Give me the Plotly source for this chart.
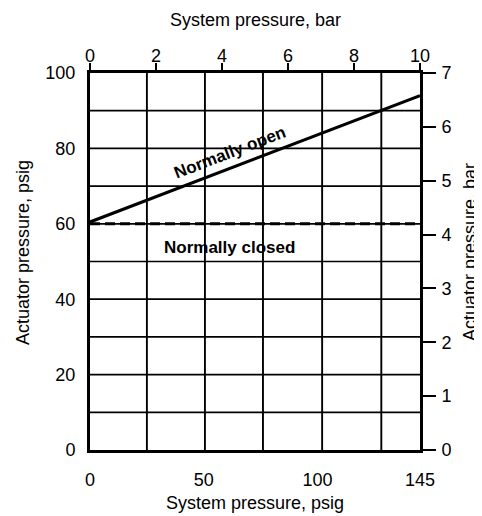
import plotly.graph_objects as go

# ---- data ----
system_psig = [0, 145]
normally_open_psig = [60.5, 94]
normally_closed_psig = [60, 60]

bottom_tickvals = [0, 50, 100, 145]
bottom_ticktext = ["0", "50", "100", "145"]
top_tickvals = [0, 2, 4, 6, 8, 10]
left_tickvals = [0, 20, 40, 60, 80, 100]
right_tickvals = [0, 1, 2, 3, 4, 5, 6, 7]

grid_x_psig = [25, 50.5, 76, 102, 128]
grid_y_psig = [10, 20, 30, 40, 50, 60, 70, 80, 90]

FONT = "Liberation Sans, Arial, Helvetica, sans-serif"

# page body has an 8px margin; figure is sized so that it fits the 482x516 window
W, H = 474, 508
L, R, T, B = 82, 62, 65, 66
PW, PH = W - L - R, H - T - B  # 330 x 377


def px_x(screen_x):
    return (screen_x - 8 - L) / PW


def px_y(screen_y):
    return (H - B - (screen_y - 8)) / PH


fig = go.Figure()

fig.add_trace(go.Scatter(
    x=system_psig, y=normally_open_psig, mode="lines",
    line=dict(color="black", width=3.2), showlegend=False, hoverinfo="skip"))
fig.add_trace(go.Scatter(
    x=system_psig, y=normally_closed_psig, mode="lines",
    line=dict(color="black", width=3, dash="10px,5px"), showlegend=False, hoverinfo="skip"))
# carrier trace for the secondary (bar) axes
fig.add_trace(go.Scatter(x=[None], y=[None], xaxis="x2", yaxis="y2",
                         showlegend=False, hoverinfo="skip"))

shapes = []
for gx in grid_x_psig:
    shapes.append(dict(type="line", xref="x", yref="paper", x0=gx, x1=gx, y0=0, y1=1,
                       line=dict(color="black", width=1.9), layer="below"))
for gy in grid_y_psig:
    shapes.append(dict(type="line", xref="paper", yref="y", x0=0, x1=1, y0=gy, y1=gy,
                       line=dict(color="black", width=1.7), layer="below"))

title_font = dict(family=FONT, size=18, color="black")
annotations = [
    dict(text="Normally open", x=61.5, y=78.8, xref="x", yref="y", showarrow=False,
         textangle=-21, xanchor="center", yanchor="middle",
         font=dict(family=FONT, size=17, color="black", weight="bold")),
    dict(text="Normally closed", x=61.5, y=53.6, xref="x", yref="y", showarrow=False,
         xanchor="center", yanchor="middle",
         font=dict(family=FONT, size=17, color="black", weight="bold")),
    dict(text="System pressure, bar", x=px_x(255), y=px_y(20), xref="paper", yref="paper",
         xanchor="center", yanchor="middle", showarrow=False, font=title_font),
    dict(text="System pressure, psig", x=px_x(255), y=px_y(503), xref="paper", yref="paper",
         xanchor="center", yanchor="middle", showarrow=False, font=title_font),
    dict(text="Actuator pressure, psig", x=px_x(23), y=px_y(253),
         xref="paper", yref="paper", textangle=-90, xanchor="center", yanchor="middle",
         showarrow=False, font=title_font),
    dict(text="Actuator pressure, bar", x=px_x(470), y=px_y(252),
         xref="paper", yref="paper", textangle=-90, xanchor="center", yanchor="middle",
         showarrow=False, font=title_font),
]

tickfont = dict(family=FONT, size=18, color="black")

fig.update_layout(
    width=W, height=H,
    margin=dict(l=L, r=R, t=T, b=B, autoexpand=False),
    paper_bgcolor="white", plot_bgcolor="white",
    showlegend=False,
    shapes=shapes, annotations=annotations,
    xaxis=dict(range=[0, 145], tickvals=bottom_tickvals, ticktext=bottom_ticktext,
               showgrid=False, zeroline=False, showline=True, linecolor="black", linewidth=3,
               ticks="", ticklabelstandoff=11, tickfont=tickfont, fixedrange=True),
    xaxis2=dict(range=[0, 10], tickvals=top_tickvals, overlaying="x", side="top", anchor="y2",
                showgrid=False, zeroline=False, showline=True, linecolor="black", linewidth=3,
                ticks="outside", ticklen=7, tickwidth=2, tickcolor="black",
                ticklabelstandoff=-6, tickfont=tickfont, fixedrange=True),
    yaxis=dict(range=[0, 100], tickvals=left_tickvals,
               showgrid=False, zeroline=False, showline=True, linecolor="black", linewidth=3,
               ticks="", ticklabelstandoff=8, tickfont=tickfont, fixedrange=True),
    yaxis2=dict(range=[0, 7], tickvals=right_tickvals, overlaying="y", side="right", anchor="x2",
                showgrid=False, zeroline=False, showline=True, linecolor="black", linewidth=3,
                ticks="outside", ticklen=13, tickwidth=1.5, tickcolor="black",
                ticklabelstandoff=2, tickfont=tickfont, fixedrange=True),
)

fig.write_html("out.html")
